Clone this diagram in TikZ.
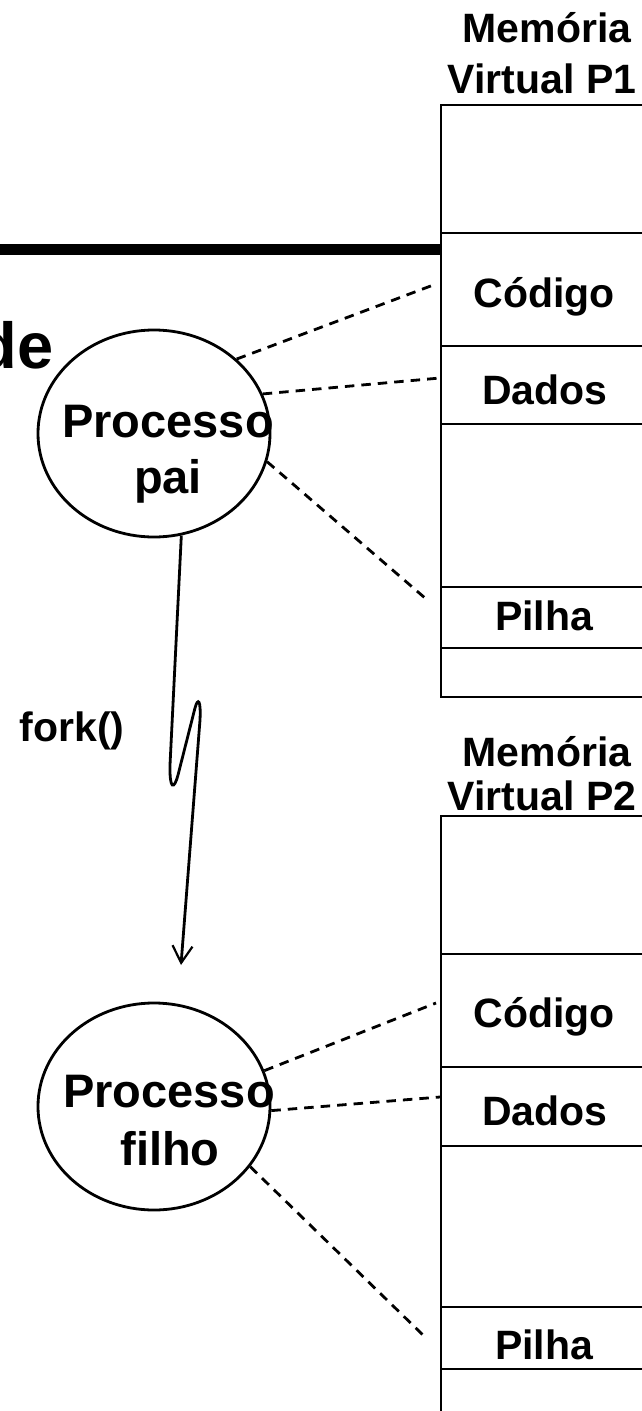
\documentclass[tikz,border=0pt]{standalone}
\usepackage{fontspec}
\setmainfont{Liberation Sans}
\usetikzlibrary{shapes.geometric,arrows.meta}
\tikzset{
  lbl/.style={font=\bfseries\fontsize{41}{49}\selectfont, inner sep=0pt, anchor=base},
  proctext/.style={font=\bfseries\fontsize{47}{56}\selectfont, inner sep=0pt, anchor=base},
  memline/.style={line width=2.4pt},
  link/.style={line width=2.8pt, dash pattern=on 9.5pt off 7pt},
  procshape/.style={ellipse, draw, line width=2.8pt, minimum width=232pt, minimum height=207pt, inner sep=0pt},
  forkline/.style={line width=2.8pt, -{Straight Barb[length=17pt,width=20pt,line width=2.2pt]}}
}
\begin{document}
\begin{tikzpicture}[x=1pt,y=-1pt]
\useasboundingbox (0,0) rectangle (642,1411);
\clip (0,0) rectangle (642,1411);
\fill[white] (0,0) rectangle (642,1411);

% cut-off title fragment and thick rule
\node[font=\bfseries\fontsize{65}{70}\selectfont, inner sep=0pt, anchor=base east] (de) at (54,368) {de};
\draw[line width=11pt] (-5,249.5) -- (441,249.5);

% ---- Virtual memory P1
\node[lbl] (m1a) at (547,42) {Memória};
\node[lbl] (m1b) at (542,93) {Virtual P1};
\draw[memline] (660,105) -- (441,105) -- (441,697) -- (660,697);
\foreach \yy in {233,346,424,587,648} \draw[memline] (441,\yy) -- (660,\yy);
\node[lbl] (cod1) at (544,307) {Código};
\node[lbl] (dad1) at (545,404) {Dados};
\node[lbl] (pil1) at (544,630) {Pilha};
\coordinate (c1) at (436,284);
\coordinate (d1) at (440,378);
\coordinate (p1) at (425,598);

% ---- Virtual memory P2
\node[lbl] (m2a) at (547,766) {Memória};
\node[lbl] (m2b) at (542,810) {Virtual P2};
\draw[memline] (660,816) -- (441,816) -- (441,1420);
\foreach \yy in {954,1067,1146,1307,1369} \draw[memline] (441,\yy) -- (660,\yy);
\node[lbl] (cod2) at (544,1027) {Código};
\node[lbl] (dad2) at (545,1125) {Dados};
\node[lbl] (pil2) at (544,1359) {Pilha};
\coordinate (c2) at (436,1003);
\coordinate (d2) at (440,1097);
\coordinate (p2) at (425,1337);

% ---- processes
\node[procshape] (pai) at (154,433.5) {};
\node[proctext] (paiA) at (168,437) {Processo};
\node[proctext] (paiB) at (168,493) {pai};

\node[procshape] (filho) at (154,1106.5) {};
\node[proctext] (filA) at (169,1107) {Processo};
\node[proctext] (filB) at (170,1165) {filho};

% dashed mappings
\draw[link] (pai.42.6) -- (c1);
\draw[link] (pai.20.2) -- (d1);
\draw[link] (pai.-14.8) -- (p1);
\draw[link] (filho.18.7) -- (c2);
\draw[link] (filho.-2.7) -- (d2);
\draw[link] (filho.-32.2) -- (p2);

% fork arrow
\node[lbl] (fork) at (72,741) {fork()};
\coordinate (forkend) at (181,965);
\draw[forkline] (pai.-75.7) -- (170,765) .. controls (169.5,790) and (174,790) .. (178,775)
  -- (195,708) .. controls (198,697) and (201,700) .. (200,720) -- (forkend);
\end{tikzpicture}
\end{document}
